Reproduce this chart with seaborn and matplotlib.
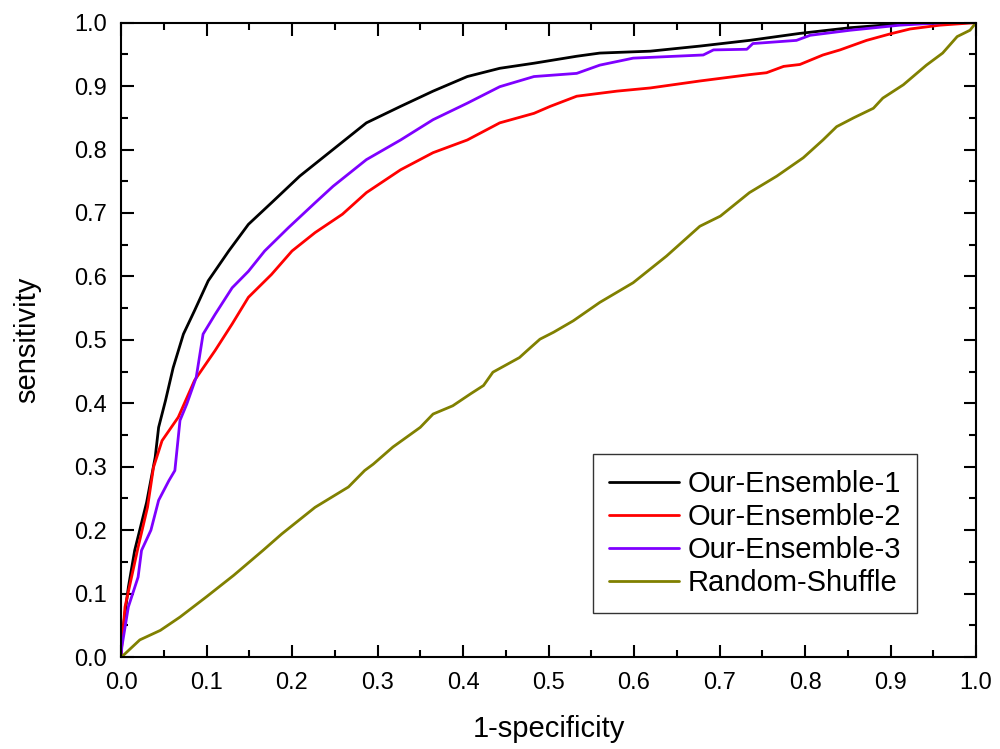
import matplotlib
matplotlib.use("Agg")
import matplotlib.pyplot as plt
from matplotlib.ticker import MultipleLocator, FormatStrFormatter
import pandas as pd
import seaborn as sns

# ROC points
ens1_fpr = [0.0, 0.001, 0.0086, 0.016, 0.030, 0.040, 0.044, 0.052, 0.061, 0.073, 0.086,
            0.102, 0.126, 0.149, 0.176, 0.209, 0.248, 0.287, 0.327, 0.365, 0.405, 0.443,
            0.483, 0.533, 0.560, 0.619, 0.677, 0.735, 0.794, 0.853, 0.911, 0.990, 1.0]
ens1_tpr = [0.0, 0.03, 0.11, 0.168, 0.244, 0.315, 0.362, 0.404, 0.456, 0.509, 0.546,
            0.593, 0.640, 0.682, 0.716, 0.758, 0.800, 0.842, 0.868, 0.892, 0.915, 0.928,
            0.936, 0.947, 0.952, 0.955, 0.963, 0.972, 0.983, 0.992, 0.998, 1.0, 1.0]

ens2_fpr = [0.0, 0.001, 0.0047, 0.020, 0.031, 0.038, 0.048, 0.067, 0.086, 0.110, 0.130,
            0.149, 0.176, 0.200, 0.227, 0.259, 0.287, 0.327, 0.365, 0.405, 0.443, 0.483,
            0.502, 0.533, 0.580, 0.619, 0.677, 0.735, 0.755, 0.775, 0.794, 0.821, 0.841,
            0.872, 0.899, 0.923, 0.958, 1.0]
ens2_tpr = [0.0, 0.02, 0.079, 0.173, 0.236, 0.299, 0.341, 0.378, 0.436, 0.483, 0.525,
            0.567, 0.603, 0.640, 0.669, 0.698, 0.732, 0.768, 0.795, 0.815, 0.842, 0.857,
            0.868, 0.884, 0.892, 0.897, 0.908, 0.918, 0.921, 0.931, 0.934, 0.949, 0.957,
            0.972, 0.982, 0.990, 0.996, 1.0]

ens3_fpr = [0.0, 0.001, 0.0086, 0.020, 0.024, 0.035, 0.044, 0.056, 0.063, 0.069, 0.077,
            0.088, 0.096, 0.110, 0.130, 0.149, 0.168, 0.196, 0.227, 0.248, 0.287, 0.327,
            0.365, 0.405, 0.443, 0.483, 0.533, 0.560, 0.599, 0.681, 0.693, 0.732, 0.739,
            0.790, 0.806, 0.853, 0.911, 0.963, 1.0]
ens3_tpr = [0.0, 0.016, 0.079, 0.126, 0.168, 0.200, 0.247, 0.278, 0.294, 0.373, 0.399,
            0.441, 0.509, 0.540, 0.582, 0.608, 0.640, 0.677, 0.716, 0.742, 0.784, 0.815,
            0.847, 0.873, 0.899, 0.915, 0.920, 0.933, 0.944, 0.949, 0.957, 0.958, 0.967,
            0.972, 0.980, 0.988, 0.996, 1.0, 1.0]

rand_fpr = [0.0, 0.003, 0.022, 0.046, 0.069, 0.100, 0.132, 0.166, 0.188, 0.227, 0.266,
            0.285, 0.295, 0.318, 0.350, 0.365, 0.388, 0.409, 0.424, 0.435, 0.466, 0.475,
            0.490, 0.506, 0.529, 0.560, 0.599, 0.638, 0.677, 0.701, 0.735, 0.767, 0.798,
            0.821, 0.837, 0.857, 0.880, 0.891, 0.915, 0.942, 0.961, 0.978, 0.993, 1.0]
rand_tpr = [0.0, 0.003, 0.027, 0.042, 0.063, 0.095, 0.129, 0.168, 0.194, 0.236, 0.268,
            0.294, 0.304, 0.331, 0.362, 0.383, 0.396, 0.415, 0.428, 0.449, 0.472, 0.483,
            0.501, 0.512, 0.530, 0.559, 0.590, 0.632, 0.679, 0.695, 0.732, 0.758, 0.787,
            0.815, 0.836, 0.850, 0.865, 0.881, 0.902, 0.933, 0.952, 0.978, 0.988, 1.0]

series = [
    ("Our-Ensemble-1", ens1_fpr, ens1_tpr, "#000000"),
    ("Our-Ensemble-2", ens2_fpr, ens2_tpr, "#ff0000"),
    ("Our-Ensemble-3", ens3_fpr, ens3_tpr, "#7f00ff"),
    ("Random-Shuffle", rand_fpr, rand_tpr, "#808000"),
]

sns.set_style("ticks")
plt.rcParams['font.family'] = ['Liberation Sans', 'DejaVu Sans']
plt.rcParams['text.color'] = 'black'
plt.rcParams['axes.labelcolor'] = 'black'

fig = plt.figure(figsize=(10, 7.49), dpi=100)
ax = fig.add_axes([0.121, 0.1228, 0.855, 0.847])

for name, fpr, tpr, col in series:
    df = pd.DataFrame({"fpr": fpr, "tpr": tpr})
    sns.lineplot(data=df, x="fpr", y="tpr", ax=ax, color=col, lw=2,
                 sort=False, estimator=None, label=name)

ax.set_xlim(0, 1)
ax.set_ylim(0, 1)
ax.xaxis.set_major_locator(MultipleLocator(0.1))
ax.xaxis.set_minor_locator(MultipleLocator(0.05))
ax.yaxis.set_major_locator(MultipleLocator(0.1))
ax.yaxis.set_minor_locator(MultipleLocator(0.05))
ax.xaxis.set_major_formatter(FormatStrFormatter("%.1f"))
ax.yaxis.set_major_formatter(FormatStrFormatter("%.1f"))
ax.tick_params(which="both", direction="in", top=True, right=True,
               width=1.5, labelsize=17, colors="black")
ax.tick_params(which="major", length=9)
ax.tick_params(which="minor", length=5)
ax.tick_params(axis="x", which="major", pad=11)
ax.tick_params(axis="y", which="major", pad=10)
for sp in ax.spines.values():
    sp.set_linewidth(1.5)
    sp.set_color("black")

ax.set_xlabel("1-specificity", fontsize=21, labelpad=15)
ax.set_ylabel("sensitivity", fontsize=21, labelpad=24)

leg = ax.legend(loc="lower right", bbox_to_anchor=(0.931, 0.069), fontsize=21,
                frameon=True, fancybox=False, handlelength=2.4, handletextpad=0.3,
                borderpad=0.55, labelspacing=0.17, borderaxespad=0)
leg.get_frame().set_edgecolor("black")
leg.get_frame().set_linewidth(1.0)

fig.savefig("out.png", dpi=100)
